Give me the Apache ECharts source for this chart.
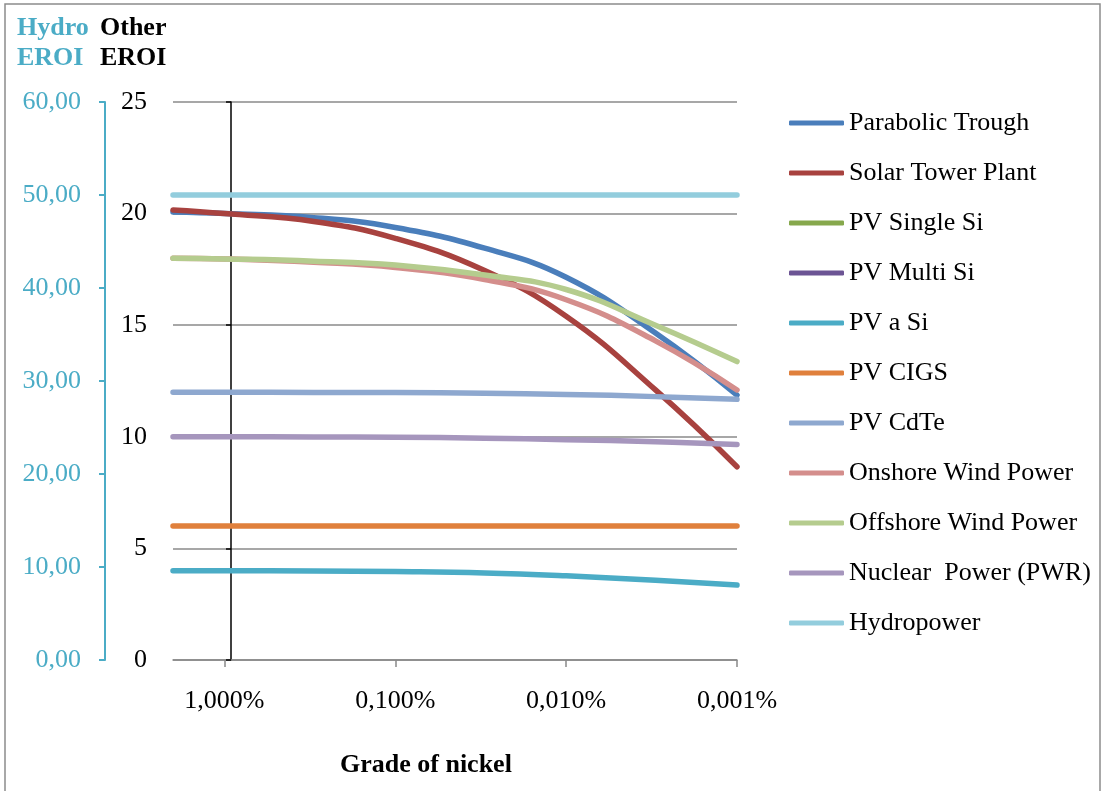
<!DOCTYPE html>
<html>
<head>
<meta charset="utf-8">
<script src="https://cdn.jsdelivr.net/npm/echarts@6/dist/echarts.min.js"></script>
<style>
html,body{margin:0;padding:0;background:#fff;}
#chart{width:1104px;height:791px;}
</style>
</head>
<body>
<div id="chart"></div>
<script>
// Grade of nickel (%), x positions of sampled points
var grades = [2, 1, 0.3, 0.1, 0.03, 0.01, 0.003, 0.001];
var xTicks = [1, 0.1, 0.01, 0.001];

var seriesNames = ['Parabolic Trough','Solar Tower Plant','PV Single Si','PV Multi Si','PV a Si','PV CIGS','PV CdTe','Onshore Wind Power','Offshore Wind Power','Nuclear  Power (PWR)','Hydropower'];

// EROI values (Other axis)
var parabolicTrough = [20.07, 20.0, 19.82, 19.38, 18.45, 17.15, 14.65, 11.87];
var solarTower      = [20.16, 20.0, 19.65, 18.89, 17.45, 15.4, 12.1, 8.66];
var pvSingleSi      = [];
var pvMultiSi       = [];
var pvASi           = [4.0, 4.0, 3.985, 3.96, 3.9, 3.77, 3.57, 3.36];
var pvCIGS          = [6.0, 6.0, 6.0, 6.0, 6.0, 6.0, 6.0, 6.0];
var pvCdTe          = [12.0, 12.0, 11.99, 11.98, 11.95, 11.9, 11.8, 11.68];
var onshoreWind     = [18.0, 17.97, 17.82, 17.59, 17.05, 16.14, 14.3, 12.1];
var offshoreWind    = [18.0, 17.97, 17.87, 17.7, 17.25, 16.6, 15.0, 13.37];
var nuclearPWR      = [10.0, 10.0, 9.995, 9.98, 9.94, 9.87, 9.78, 9.66];
// Hydro EROI (Hydro axis)
var hydropower      = [50, 50, 50, 50, 50, 50, 50, 50];

var colors = ['#4A7EBB','#A8423F','#86A84C','#6C5494','#4BACC6','#E0803C','#8EA8CF','#D48E8C','#B5CC8E','#A696BD','#93CDDD'];

var FONT = '"Liberation Serif","Times New Roman",serif';
var FS = 26;

function pairs(vals){ return vals.map(function(v,i){ return [grades[i], v]; }); }

var otherData = [parabolicTrough, solarTower, pvSingleSi, pvMultiSi, pvASi, pvCIGS, pvCdTe, onshoreWind, offshoreWind, nuclearPWR];
var series = [];
otherData.forEach(function(d,i){
  series.push({
    name: seriesNames[i], type:'line', yAxisIndex:0, smooth:0.45, showSymbol:false, symbol:'none',
    data: pairs(d), lineStyle:{width:5.5, cap:'round', join:'round', color:colors[i]}, itemStyle:{color:colors[i]}
  });
});
series.push({
  name: seriesNames[10], type:'line', yAxisIndex:1, smooth:0.45, showSymbol:false, symbol:'none',
  data: pairs(hydropower), lineStyle:{width:5.5, cap:'round', color:colors[10]}, itemStyle:{color:colors[10]}
});

function xLabel(v){
  var l = Math.log10(v);
  if (Math.abs(l - Math.round(l)) > 1e-6 || v > 1.5) return '';
  return v.toFixed(3).replace('.', ',') + '%';
}

var chart = echarts.init(document.getElementById('chart'), null, {renderer:'canvas'});
chart.setOption({
  animation:false,
  color: colors,
  textStyle:{fontFamily:FONT},
  title:[
    {text:'Hydro\nEROI', left:17, top:13, padding:0, textStyle:{fontFamily:FONT, fontSize:FS, fontWeight:'bold', color:'#4BACC6', lineHeight:30}},
    {text:'Other\nEROI', left:100, top:13, padding:0, textStyle:{fontFamily:FONT, fontSize:FS, fontWeight:'bold', color:'#000', lineHeight:30}},
    {text:'Grade of nickel', left:340, top:752, padding:0, textStyle:{fontFamily:FONT, fontSize:FS, fontWeight:'bold', color:'#000'}}
  ],
  grid:{left:173, right:367, top:102, bottom:131},
  legend:{
    orient:'vertical', left:789, top:110, padding:0, icon:'roundRect', itemWidth:55, itemHeight:5, itemGap:24,
    textStyle:{fontFamily:FONT, fontSize:FS, color:'#000', lineHeight:26}
  },
  xAxis:{
    type:'log', logBase:10, min:0.001, max:2, inverse:true,
    axisLine:{show:true, lineStyle:{color:'#898989', width:1.5}},
    axisTick:{show:true, length:7, lineStyle:{color:'#898989', width:1.5}, customValues:xTicks},
    axisLabel:{fontFamily:FONT, fontSize:FS, color:'#000', margin:28, formatter:xLabel, customValues:xTicks, showMinLabel:true, showMaxLabel:true},
    splitLine:{show:false}
  },
  yAxis:[
    {
      type:'value', min:0, max:25, interval:5, position:'left', offset:-58,
      axisLine:{show:true, lineStyle:{color:'#000', width:1.5}},
      axisTick:{show:true, length:5, lineStyle:{color:'#000', width:1.5}},
      axisLabel:{fontFamily:FONT, fontSize:FS, color:'#000', margin:84},
      splitLine:{show:true, lineStyle:{color:'#8a8a8a', width:1.5}}
    },
    {
      type:'value', min:0, max:60, interval:10, position:'left', offset:68,
      axisLine:{show:true, lineStyle:{color:'#4BACC6', width:2}},
      axisTick:{show:true, length:6, lineStyle:{color:'#4BACC6', width:2}},
      axisLabel:{fontFamily:FONT, fontSize:FS, color:'#4BACC6', margin:24, formatter:function(v){return v.toFixed(2).replace('.', ',');}},
      splitLine:{show:false}
    }
  ],
  graphic:[{type:'rect', shape:{x:5, y:4, width:1095, height:800}, style:{fill:'none', stroke:'#8c8c8c', lineWidth:1.5}, silent:true, z:-10}],
  series: series
});
</script>
</body>
</html>
